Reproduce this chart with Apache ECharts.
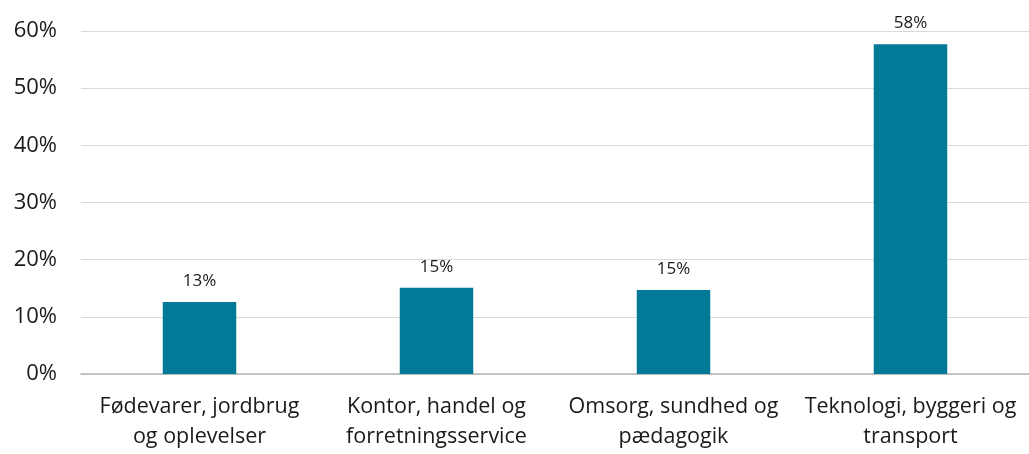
<!DOCTYPE html>
<html>
<head>
<meta charset="utf-8">
<script src="https://cdn.jsdelivr.net/npm/echarts@6/dist/echarts.min.js"></script>
<style>
  html, body { margin: 0; padding: 0; background: #fff; }
  #chart { width: 1029px; height: 454px; }
</style>
</head>
<body>
<div id="chart"></div>
<script>
// data
const categories = [
  "Fødevarer, jordbrug\nog oplevelser",
  "Kontor, handel og\nforretningsservice",
  "Omsorg, sundhed og\npædagogik",
  "Teknologi, byggeri og\ntransport"
];
const shares = [12.6, 15.1, 14.7, 57.7];
const yTicks = [0, 10, 20, 30, 40, 50, 60];

const font = "'Open Sans', 'Noto Sans', sans-serif";
const chart = echarts.init(document.getElementById("chart"));

chart.setOption({
  animation: false,
  grid: { left: 81, right: 0, top: 31, bottom: 80, containLabel: false },
  xAxis: {
    type: "category",
    data: categories,
    axisTick: { show: false },
    axisLine: { show: true, lineStyle: { color: "#b4b4b4", width: 1.5 } },
    axisLabel: {
      interval: 0,
      margin: 18,
      fontSize: 21.5,
      lineHeight: 30,
      color: "#1a1a1a",
      fontFamily: font
    }
  },
  yAxis: {
    type: "value",
    min: yTicks[0],
    max: yTicks[yTicks.length - 1],
    interval: 10,
    axisLine: { show: false },
    axisTick: { show: false },
    splitLine: { lineStyle: { color: "#d9d9d9", width: 1 } },
    axisLabel: {
      margin: 24,
      fontSize: 22,
      color: "#1a1a1a",
      fontFamily: font,
      formatter: v => v + "%"
    }
  },
  series: [
    {
      type: "bar",
      data: shares,
      barWidth: "31%",
      itemStyle: { color: "#027996" },
      label: {
        show: true,
        position: "top",
        distance: 12,
        fontSize: 17,
        color: "#1a1a1a",
        fontFamily: font,
        formatter: p => Math.round(p.value) + "%"
      }
    }
  ]
});
</script>
</body>
</html>
